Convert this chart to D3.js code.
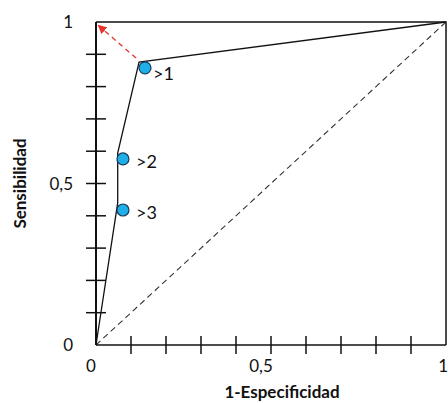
<!DOCTYPE html>
<html>
<head>
<meta charset="utf-8">
<script src="https://cdn.jsdelivr.net/npm/d3@7"></script>
<style>
  body { margin: 0; background: #fff; }
  svg { display: block; font-family: Lato, "Open Sans", sans-serif; }
</style>
</head>
<body>
<div id="chart"></div>
<script>
// ROC curve vertices (1-especificidad, sensibilidad)
const rocX = [0, 0.062, 0.062, 0.123, 1];
const rocY = [0, 0.44, 0.594, 0.876, 1];

// cut-off markers
const cutLabels = ['>1', '>2', '>3'];
const cutX = [0.14, 0.077, 0.077];
const cutY = [0.858, 0.576, 0.418];

const tickValues = [0.1, 0.2, 0.3, 0.4, 0.5, 0.6, 0.7, 0.8, 0.9];
const xTickLabels = [[0, '0'], [0.5, '0,5'], [1, '1']];
const yTickLabels = [[0, '0'], [0.5, '0,5'], [1, '1']];

const width = 448, height = 403;
const margin = { top: 22, right: 2, bottom: 58, left: 96 };

const x = d3.scaleLinear().domain([0, 1]).range([margin.left, width - margin.right]);
const y = d3.scaleLinear().domain([0, 1]).range([height - margin.bottom, margin.top]);

const svg = d3.select('#chart').append('svg')
  .attr('width', width)
  .attr('height', height);

svg.append('defs').append('marker')
  .attr('id', 'arrow')
  .attr('viewBox', '0 0 10 10')
  .attr('refX', 8).attr('refY', 5)
  .attr('markerWidth', 9).attr('markerHeight', 9)
  .attr('markerUnits', 'userSpaceOnUse')
  .attr('orient', 'auto')
  .append('path')
  .attr('d', 'M0,0 L10,5 L0,10 Z')
  .attr('fill', '#e5332a');

// frame: top and right
svg.append('path')
  .attr('d', `M${x(0)},${y(1)} H${x(1)} V${y(0)}`)
  .attr('fill', 'none')
  .attr('stroke', '#111')
  .attr('stroke-width', 1.5);

// diagonal reference
svg.append('line')
  .attr('x1', x(0)).attr('y1', y(0))
  .attr('x2', x(1)).attr('y2', y(1))
  .attr('stroke', '#333')
  .attr('stroke-width', 1.1)
  .attr('stroke-dasharray', '6,4');

// axes
svg.append('line')
  .attr('x1', x(0)).attr('x2', x(0))
  .attr('y1', y(0)).attr('y2', y(1))
  .attr('stroke', '#111').attr('stroke-width', 2);
svg.append('line')
  .attr('x1', x(0)).attr('x2', x(1))
  .attr('y1', y(0)).attr('y2', y(0))
  .attr('stroke', '#111').attr('stroke-width', 1.5);

svg.append('g').selectAll('line')
  .data(tickValues)
  .join('line')
  .attr('x1', x(0) - 10).attr('x2', x(0) + 10)
  .attr('y1', d => y(d)).attr('y2', d => y(d))
  .attr('stroke', '#111').attr('stroke-width', 1.5);

svg.append('g').selectAll('line')
  .data(tickValues)
  .join('line')
  .attr('x1', d => x(d)).attr('x2', d => x(d))
  .attr('y1', y(0) - 9).attr('y2', y(0) + 9)
  .attr('stroke', '#111').attr('stroke-width', 1.5);

// tick labels
svg.append('g').selectAll('text')
  .data(yTickLabels)
  .join('text')
  .attr('x', x(0) - 23)
  .attr('y', d => y(d[0]) + 6)
  .attr('text-anchor', 'end')
  .attr('font-size', 17)
  .attr('fill', '#111')
  .text(d => d[1]);

svg.append('g').selectAll('text')
  .data(xTickLabels)
  .join('text')
  .attr('x', d => x(d[0]) + (d[0] === 1 ? 2 : d[0] === 0 ? -5 : -10))
  .attr('y', y(0) + 27)
  .attr('text-anchor', d => d[0] === 1 ? 'end' : 'middle')
  .attr('font-size', 17)
  .attr('fill', '#111')
  .text(d => d[1]);

// axis titles
svg.append('text')
  .attr('x', 282)
  .attr('y', 398)
  .attr('text-anchor', 'middle')
  .attr('font-size', 17)
  .attr('font-weight', 'bold')
  .attr('fill', '#111')
  .text('1-Especificidad');

svg.append('text')
  .attr('transform', `translate(26,${y(0.5)}) rotate(-90)`)
  .attr('text-anchor', 'middle')
  .attr('font-size', 17)
  .attr('font-weight', 'bold')
  .attr('fill', '#111')
  .text('Sensibilidad');

// ROC curve
const roc = rocX.map((d, i) => [d, rocY[i]]);
svg.append('path')
  .datum(roc)
  .attr('d', d3.line().x(d => x(d[0])).y(d => y(d[1])))
  .attr('fill', 'none')
  .attr('stroke', '#111')
  .attr('stroke-width', 1.3);

// red dashed arrow towards ideal corner
svg.append('line')
  .attr('x1', x(rocX[3]) - 3).attr('y1', y(rocY[3]) - 4)
  .attr('x2', x(0) + 3).attr('y2', y(1) + 4)
  .attr('stroke', '#e5332a')
  .attr('stroke-width', 1.3)
  .attr('stroke-dasharray', '5,4')
  .attr('marker-end', 'url(#arrow)');

// cut-off points
const cuts = cutLabels.map((l, i) => ({ label: l, x: cutX[i], y: cutY[i] }));
svg.append('g').selectAll('circle')
  .data(cuts)
  .join('circle')
  .attr('cx', d => x(d.x))
  .attr('cy', d => y(d.y))
  .attr('r', 6)
  .attr('fill', '#1eaee8')
  .attr('stroke', '#163a5a')
  .attr('stroke-width', 1.2);

svg.append('g').selectAll('text')
  .data(cuts)
  .join('text')
  .attr('x', (d, i) => x(d.x) + (i === 0 ? 8 : 13))
  .attr('y', (d, i) => y(d.y) + (i === 0 ? 12 : 9))
  .attr('font-size', 18)
  .attr('fill', '#111')
  .text(d => d.label);
</script>
</body>
</html>
